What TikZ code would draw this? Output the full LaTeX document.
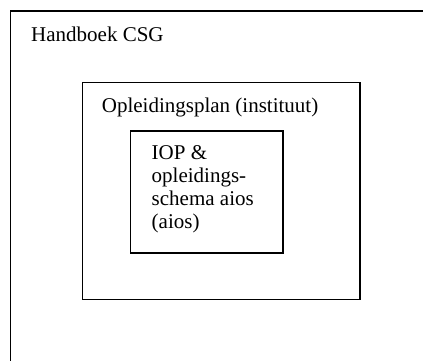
\documentclass[tikz,border=0pt]{standalone}
\usepackage{fontspec}
\setmainfont{Liberation Serif}
\begin{document}
\begin{tikzpicture}[x=1pt,y=1pt,
  box/.style={draw=black, line width=1.8pt, inner sep=0pt, anchor=north west},
  lbl/.style={inner sep=0pt, anchor=base west, font=\fontsize{21}{23.3}\selectfont}]
\useasboundingbox (0,0) rectangle (423,-360);
\clip (0,0) rectangle (423,-360);
\fill[white] (0,0) rectangle (423,-360);
\node[box, minimum width=440pt, minimum height=380pt] (outer) at (9.5,-10) {};
\node[box, minimum width=277.5pt, minimum height=217pt] (mid) at (81.5,-81.5) {};
\node[box, minimum width=152.5pt, minimum height=122pt] (inner) at (129.5,-130) {};
\node[lbl] (t1) at (31,-41) {Handboek CSG};
\node[lbl] (t2) at (101.7,-112.7) {Opleidingsplan (instituut)};
\node[lbl, align=left] (t3) at (151.5,-228.9) {IOP \&\\opleidings-\\schema aios\\(aios)};
\end{tikzpicture}
\end{document}
